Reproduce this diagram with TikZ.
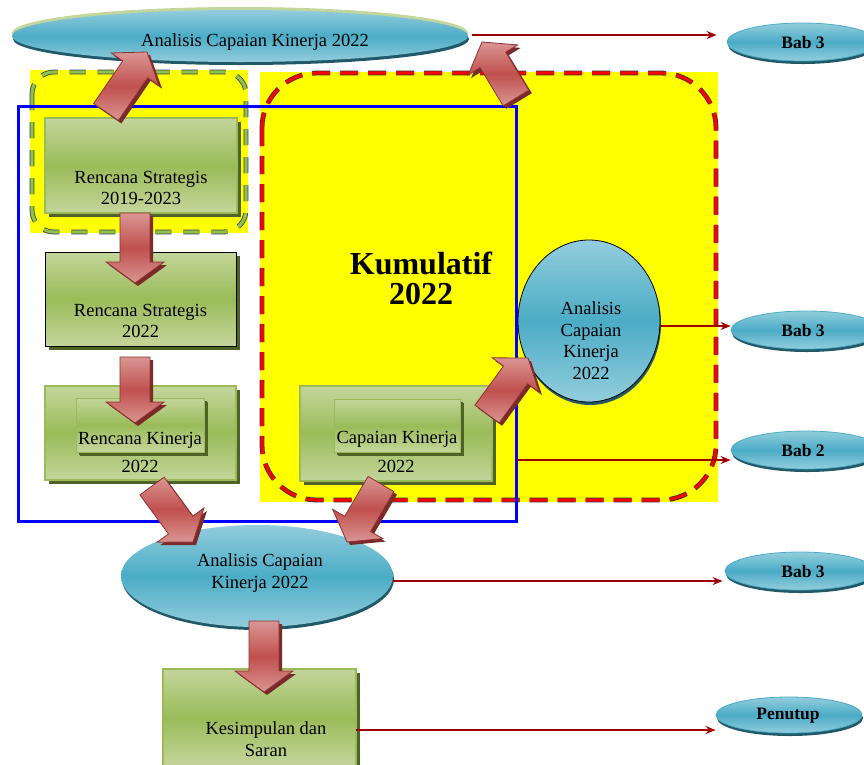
\documentclass[tikz,border=0pt]{standalone}
\usepackage{fontspec}
\setmainfont{Liberation Serif}
\usetikzlibrary{shapes.geometric,calc,shadows,arrows.meta}
\definecolor{gL}{HTML}{C3D69B}
\definecolor{gM}{HTML}{9BBB59}
\definecolor{gD}{HTML}{8DC14F}
\definecolor{gS}{HTML}{4F6228}
\definecolor{eL}{HTML}{93CDDD}
\definecolor{eM}{HTML}{4BACC6}
\definecolor{eS}{HTML}{215968}
\definecolor{aL}{HTML}{DA9694}
\definecolor{aM}{HTML}{C0504D}
\definecolor{aS}{HTML}{7A2A28}
\definecolor{aB}{HTML}{8C3230}
\definecolor{conncol}{HTML}{A00000}
\definecolor{ylw}{HTML}{FFFF00}
\newcommand{\blockarr}[2]{%
  \coordinate (bn) at ($(#2)!21pt!(#1)$);
  \fill[aS, transform canvas={xshift=3pt,yshift=-3pt}]
    ($(#1)!15pt!90:(#2)$) -- ($(bn)!15pt!90:(#2)$) -- ($(bn)!29pt!90:(#2)$) -- (#2)
    -- ($(bn)!29pt!-90:(#2)$) -- ($(bn)!15pt!-90:(#2)$) -- ($(#1)!15pt!-90:(#2)$) -- cycle;
  \draw[aB, line width=0.8pt, top color=aL, bottom color=aL, middle color=aM]
    ($(#1)!15pt!90:(#2)$) -- ($(bn)!15pt!90:(#2)$) -- ($(bn)!29pt!90:(#2)$) -- (#2)
    -- ($(bn)!29pt!-90:(#2)$) -- ($(bn)!15pt!-90:(#2)$) -- ($(#1)!15pt!-90:(#2)$) -- cycle;
}
\begin{document}
\begin{tikzpicture}[x=1pt,y=-1pt,
  txt/.style={font=\fontsize{18.5}{21.5}\selectfont, align=center, inner sep=0pt},
  babtxt/.style={font=\fontsize{17.5}{20}\selectfont\bfseries},
  greenbox/.style={rectangle, draw=gM, line width=1.3pt, top color=gL, bottom color=gL, middle color=gM,
     general shadow={fill=gS, shadow xshift=4pt, shadow yshift=-4pt}, inner sep=0pt},
  ellbox/.style={ellipse, top color=eL, bottom color=eL, middle color=eM, inner sep=0pt,
     general shadow={fill=eS, shadow xshift=1pt, shadow yshift=-3pt}},
  conn/.style={draw=conncol, line width=1.6pt, -{Stealth[length=10pt,width=8pt]}},
  gdash/.style={draw=gD, line width=3.2pt, dash pattern=on 16pt off 12pt},
  gdashb/.style={draw=black!75, line width=4.8pt, dash pattern=on 16pt off 12pt},
  rdash/.style={draw=red, line width=3.2pt, dash pattern=on 18pt off 10pt},
  rdashb/.style={draw=black!80, line width=4.8pt, dash pattern=on 18pt off 10pt}
]
\useasboundingbox (0,0) rectangle (864,764);
\fill[white] (0,0) rectangle (864,764);

% yellow regions
\fill[ylw] (30,70) rectangle (248,233);
\fill[ylw] (260,72) rectangle (718,502);
\draw[gdashb, rounded corners=22pt] (32,72) rectangle (246,232);
\draw[gdash, rounded corners=22pt] (32,72) rectangle (246,232);
\draw[rdashb, rounded corners=55pt] (262,73) rectangle (716,500);
\draw[rdash, rounded corners=55pt] (262,73) rectangle (716,500);

% blue frame
\draw[blue, line width=3pt] (18,106) rectangle (516,521);

% right-side ellipses
\node[ellbox, draw=eM, line width=0.8pt, minimum width=150pt, minimum height=38pt] (bab1) at (802,42) {};
\node[babtxt] at (803,43) {Bab 3};
\node[ellbox, draw=eM, line width=0.8pt, minimum width=150pt, minimum height=38pt] (bab2) at (806,330) {};
\node[babtxt] at (803,331) {Bab 3};
\node[ellbox, draw=eM, line width=0.8pt, minimum width=150pt, minimum height=38pt] (bab3) at (806,450) {};
\node[babtxt] at (803,451) {Bab 2};
\node[ellbox, draw=eM, line width=0.8pt, minimum width=150pt, minimum height=38pt] (bab4) at (800,571) {};
\node[babtxt] at (803,572) {Bab 3};
\node[ellbox, draw=eM, line width=0.8pt, minimum width=146pt, minimum height=36pt] (penutup) at (789,715) {};
\node[babtxt] at (788,716) {Penutup};

% top ellipse
\node[ellipse, fill=gL, minimum width=456pt, minimum height=52pt] (topglow) at (240,33) {};
\node[ellbox, minimum width=456pt, minimum height=52pt] (topell) at (240,36) {};
\node[txt] (toptxt) at (255,42) {Analisis Capaian Kinerja 2022};

% green boxes
\node[greenbox, minimum width=192pt, minimum height=95pt] (rs1) at (141,165.5) {};
\node[txt] at (141,188) {Rencana Strategis\\2019-2023};
\node[greenbox, draw=black, line width=0.8pt, minimum width=191pt, minimum height=94pt] (rs2) at (140.5,299) {};
\node[txt] at (140.5,321) {Rencana Strategis\\2022};
\node[greenbox, minimum width=191pt, minimum height=94pt] (rk) at (140.5,433) {};
\node[greenbox, line width=1pt, minimum width=128pt, minimum height=54pt, general shadow={fill=gS, shadow xshift=3pt, shadow yshift=-3pt}] (rkin) at (140,425) {};
\node[txt] at (140,440) {Rencana Kinerja};
\node[txt] at (140,466) {2022};
\node[greenbox, minimum width=192pt, minimum height=95pt] (ck) at (396,433.5) {};
\node[greenbox, line width=1pt, minimum width=126pt, minimum height=53pt, general shadow={fill=gS, shadow xshift=3pt, shadow yshift=-3pt}] (ckin) at (397,425.5) {};
\node[txt] at (397,439) {Capaian Kinerja};
\node[txt] at (396,466) {2022};
\node[greenbox, minimum width=193pt, minimum height=97pt] (ks) at (259.5,717.5) {};
\node[txt] at (266,739) {Kesimpulan dan\\Saran};

% kumulatif
\node[font=\fontsize{32}{30}\selectfont\bfseries, align=center] (kum) at (421,278) {Kumulatif\\2022};

% circle
\node[ellbox, draw=black, line width=0.8pt, minimum width=142pt, minimum height=162pt] (circ) at (589,321) {};
\node[txt] at (591,340.5) {Analisis\\Capaian\\Kinerja\\2022};

% bottom ellipse
\node[ellbox, minimum width=272pt, minimum height=102pt] (botell) at (257,576) {};
\node[txt] at (260,573) {Analisis Capaian\\Kinerja 2022};

% connectors
\coordinate (s1) at (472,35);
\coordinate (s2) at (660,326);
\coordinate (s3) at (517,460);
\coordinate (s4) at (393,581);
\coordinate (s5) at (356,730);
\draw[conn, shorten >=10pt] (s1) -- (s1 -| bab1.west);
\draw[conn] (s2) -- (s2 -| bab2.west);
\draw[conn] (s3) -- (s3 -| bab3.west);
\draw[conn, shorten >=2pt] (s4) -- (s4 -| bab4.west);
\draw[conn] (s5) -- (s5 -| penutup.west);

% block arrows
\coordinate (a1s) at (106,112); \coordinate (a1e) at (147,52);
\coordinate (a2s) at (516,98);  \coordinate (a2e) at (482,42);
\coordinate (a3s) at (135,213); \coordinate (a3e) at (135,283);
\coordinate (a4s) at (135,357); \coordinate (a4e) at (135,423);
\coordinate (a5s) at (152,486); \coordinate (a5e) at (193,542);
\coordinate (a6s) at (381,484); \coordinate (a6e) at (347,542);
\coordinate (a7s) at (487,414); \coordinate (a7e) at (528,358);
\coordinate (a8s) at (264,621); \coordinate (a8e) at (264,692);
\blockarr{a1s}{a1e}
\blockarr{a2s}{a2e}
\blockarr{a3s}{a3e}
\blockarr{a4s}{a4e}
\blockarr{a5s}{a5e}
\blockarr{a6s}{a6e}
\blockarr{a7s}{a7e}
\blockarr{a8s}{a8e}
\end{tikzpicture}
\end{document}
